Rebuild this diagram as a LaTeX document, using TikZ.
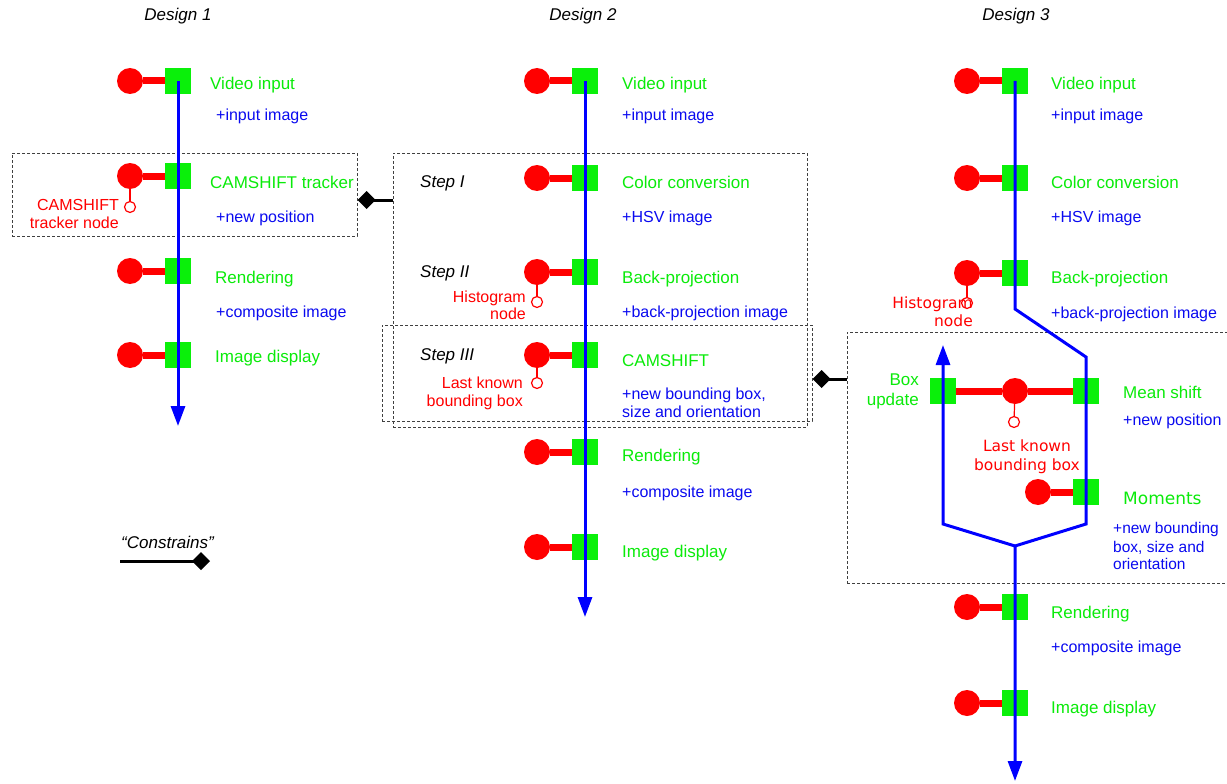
\documentclass[tikz,border=0pt]{standalone}
\usepackage{fontspec}
\setmainfont{Liberation Sans}
\newfontfamily\lucida{DejaVu Sans}
\usetikzlibrary{arrows.meta}
\definecolor{gbox}{RGB}{10,240,10}
\definecolor{gtext}{RGB}{10,235,10}
\definecolor{rcol}{RGB}{255,0,0}
\definecolor{bcol}{RGB}{0,0,255}
\definecolor{btext}{RGB}{10,10,240}
\tikzset{
  rc/.style={circle, fill=rcol, minimum size=26pt, inner sep=0pt},
  gs/.style={rectangle, fill=gbox, minimum size=26pt, inner sep=0pt},
  sc/.style={circle, draw=rcol, fill=white, line width=1.2pt, minimum size=11pt, inner sep=0pt},
  bar/.style={draw=rcol, line width=7pt},
  stem/.style={draw=rcol, line width=1.2pt},
  flow/.style={draw=bcol, line width=3pt},
  flowend/.style={flow, -{Triangle[length=20pt,width=14pt]}},
  grp/.style={rectangle, draw=black!75, line width=1pt, dash pattern=on 3pt off 2pt, inner sep=0pt},
  constrain/.style={draw=black, line width=3pt, -{Diamond[length=18pt,width=18pt]}},
  glab/.style={text=gtext, font=\fontsize{17}{20}\selectfont, inner sep=0pt, anchor=base west},
  blab/.style={text=btext, font=\fontsize{16}{19}\selectfont, inner sep=0pt, anchor=base west},
  rlab/.style={text=rcol, font=\fontsize{16}{19}\selectfont, inner sep=0pt, anchor=base east},
  klab/.style={text=black, font=\fontsize{17}{20}\selectfont\itshape, inner sep=0pt, anchor=base west},
}
\begin{document}
\begin{tikzpicture}[x=1pt,y=-1pt]
\fill[white] (0,0) rectangle (1227,784);
\useasboundingbox (0,0) rectangle (1227,784);

% ---------- headings ----------
\node[klab, anchor=base] (h1) at (178,21) {Design 1};
\node[klab, anchor=base] (h2) at (583,21) {Design 2};
\node[klab, anchor=base] (h3) at (1016,21) {Design 3};

% ---------- group frames ----------
\node[grp, minimum width=345pt, minimum height=83pt] (d1box) at (184.5,194.5) {};
\node[grp, minimum width=414pt, minimum height=274pt] (grpA) at (600,290) {};
\node[grp, minimum width=430pt, minimum height=96pt] (grpB) at (597,373) {};
\node[grp, minimum width=385pt, minimum height=251pt] (d3box) at (1039.5,457.5) {};

% ---------- Design 1 ----------
\node[rc] (d1c1) at (130,81) {};  \node[gs] (d1s1) at (178,81) {};
\node[rc] (d1c2) at (130,176) {}; \node[gs] (d1s2) at (178,176) {};
\node[rc] (d1c3) at (130,271) {}; \node[gs] (d1s3) at (178,271) {};
\node[rc] (d1c4) at (130,355) {}; \node[gs] (d1s4) at (178,355) {};
\node[sc] (d1h) at (130,207) {};
\foreach \i in {1,...,4} {\draw[bar] (d1c\i) -- (d1s\i);}
\draw[stem] (d1c2) -- (d1h);

\node[glab] (d1t1) at (210,90) {Video input};
\node[blab] (d1o1) at (216,121) {+input image};
\node[glab] (d1t2) at (210,188) {CAMSHIFT tracker};
\node[blab] (d1o2) at (216,222) {+new position};
\node[glab] (d1t3) at (215,283) {Rendering};
\node[blab] (d1o3) at (216,317) {+composite image};
\node[glab] (d1t4) at (215,362) {Image display};
\node[rlab] (d1r1) at (119,210) {CAMSHIFT};
\node[rlab] (d1r2) at (119,228) {tracker node};

\coordinate (d1end) at (178,426);
\draw[flowend] (d1s1.center) -- (d1end);

% ---------- Design 2 ----------
\node[rc] (d2c1) at (537,81) {};  \node[gs] (d2s1) at (585,81) {};
\node[rc] (d2c2) at (537,178) {}; \node[gs] (d2s2) at (585,178) {};
\node[rc] (d2c3) at (537,272) {}; \node[gs] (d2s3) at (585,272) {};
\node[rc] (d2c4) at (537,355) {}; \node[gs] (d2s4) at (585,355) {};
\node[rc] (d2c5) at (537,452) {}; \node[gs] (d2s5) at (585,452) {};
\node[rc] (d2c6) at (537,547) {}; \node[gs] (d2s6) at (585,547) {};
\foreach \i in {1,...,6} {\draw[bar] (d2c\i) -- (d2s\i);}
\node[sc] (d2h) at (537,302) {};
\node[sc] (d2k) at (537,383) {};
\draw[stem] (d2c3) -- (d2h);
\draw[stem] (d2c4) -- (d2k);

\node[klab] (st1) at (420,187) {Step I};
\node[klab] (st2) at (420,277) {Step II};
\node[klab] (st3) at (420,360) {Step III};

\node[glab] (d2t1) at (622,90) {Video input};
\node[blab] (d2o1) at (622,121) {+input image};
\node[glab] (d2t2) at (622,188) {Color conversion};
\node[blab] (d2o2) at (622,222) {+HSV image};
\node[glab] (d2t3) at (622,283) {Back-projection};
\node[blab] (d2o3) at (622,317) {+back-projection image};
\node[glab] (d2t4) at (622,366) {CAMSHIFT};
\node[blab] (d2o4) at (622,399) {+new bounding box,};
\node[blab] (d2o4b) at (622,417) {size and orientation};
\node[glab] (d2t5) at (622,461) {Rendering};
\node[blab] (d2o5) at (622,497) {+composite image};
\node[glab] (d2t6) at (622,557) {Image display};
\node[rlab] (d2r1) at (526,302) {Histogram};
\node[rlab] (d2r2) at (526,319) {node};
\node[rlab] (d2r3) at (523,388) {Last known};
\node[rlab] (d2r4) at (523,406) {bounding box};

\coordinate (d2end) at (585,617);
\draw[flowend] (d2s1.center) -- (d2end);

% ---------- Design 3 ----------
\node[rc] (d3c1) at (967,81) {};  \node[gs] (d3s1) at (1015,81) {};
\node[rc] (d3c2) at (967,178) {}; \node[gs] (d3s2) at (1015,178) {};
\node[rc] (d3c3) at (967,273) {}; \node[gs] (d3s3) at (1015,273) {};
\node[rc] (d3c4) at (967,607) {}; \node[gs] (d3s4) at (1015,607) {};
\node[rc] (d3c5) at (967,703) {}; \node[gs] (d3s5) at (1015,703) {};
\foreach \i in {1,...,5} {\draw[bar] (d3c\i) -- (d3s\i);}
\node[sc] (d3h) at (967,303) {};
\draw[stem] (d3c3) -- (d3h);

\node[gs] (d3bu) at (943,391) {};
\node[rc] (d3lc) at (1015,391) {};
\node[gs] (d3ms) at (1086,391) {};
\node[rc] (d3mc) at (1038,492) {};
\node[gs] (d3mo) at (1086,492) {};
\node[sc] (d3k) at (1014,422) {};
\draw[bar] (d3bu) -- (d3lc);
\draw[bar] (d3lc) -- (d3ms);
\draw[bar] (d3mc) -- (d3mo);
\draw[stem] (d3lc) -- (d3k);

\node[glab] (d3t1) at (1051,90) {Video input};
\node[blab] (d3o1) at (1051,121) {+input image};
\node[glab] (d3t2) at (1051,188) {Color conversion};
\node[blab] (d3o2) at (1051,222) {+HSV image};
\node[glab] (d3t3) at (1051,283) {Back-projection};
\node[blab] (d3o3) at (1051,318) {+back-projection image};
\node[glab] (d3t4) at (1123,398) {Mean shift};
\node[blab] (d3o4) at (1123,425) {+new position};
\node[glab, font=\lucida\fontsize{17}{20}\selectfont] (d3t5) at (1123,504) {Moments};
\node[blab, font=\fontsize{15.5}{18}\selectfont] (d3o5) at (1113,533) {+new bounding};
\node[blab, font=\fontsize{15.5}{18}\selectfont] (d3o5b) at (1113,552) {box, size and};
\node[blab, font=\fontsize{15.5}{18}\selectfont] (d3o5c) at (1113,569) {orientation};
\node[glab, anchor=base east] (d3t6) at (919,385) {Box};
\node[glab, anchor=base east] (d3t7) at (919,405) {update};
\node[glab] (d3t8) at (1051,618) {Rendering};
\node[blab] (d3o8) at (1051,652) {+composite image};
\node[glab] (d3t9) at (1051,713) {Image display};
\node[rlab, font=\lucida\fontsize{15.5}{18}\selectfont] (d3r1) at (973,308) {Histogram};
\node[rlab, font=\lucida\fontsize{15.5}{18}\selectfont] (d3r2) at (973,326) {node};
\node[rlab, anchor=base, font=\lucida\fontsize{15.5}{18}\selectfont] (d3r3) at (1027,451) {Last known};
\node[rlab, anchor=base, font=\lucida\fontsize{15.5}{18}\selectfont] (d3r4) at (1027,470) {bounding box};

\coordinate (d3k1) at (1015,309);
\coordinate (d3k2) at (1086,357);
\coordinate (d3k3) at (1086,524);
\coordinate (d3j) at (1015,546);
\coordinate (d3k4) at (943,524);
\coordinate (d3up) at (943,345);
\coordinate (d3end) at (1015,781);
\draw[flowend] (d3s1.center) -- (d3k1) -- (d3k2) -- (d3ms.center) -- (d3mo.center) -- (d3k3) -- (d3j) -- (d3end);
\draw[flowend] (d3j) -- (d3k4) -- (d3bu.center) -- (d3up);

% ---------- constraint links ----------
\coordinate (y1) at (0,200);
\coordinate (y2) at (0,379);
\draw[constrain] (grpA.west |- y1) -- (d1box.east |- y1);
\draw[constrain] (d3box.west |- y2) -- (grpB.east |- y2);

% ---------- legend ----------
\node[klab] (lgt) at (121,548) {“Constrains”};
\coordinate (lg1) at (120,561);
\coordinate (lg2) at (210,561);
\draw[constrain] (lg1) -- (lg2);
\end{tikzpicture}
\end{document}
